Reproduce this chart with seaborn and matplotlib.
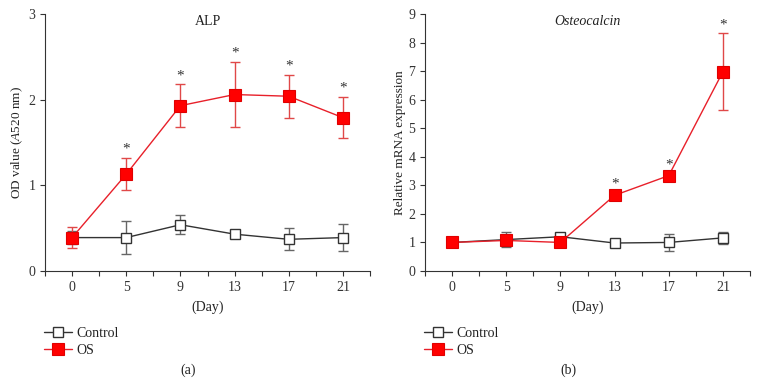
import numpy as np
import pandas as pd
import matplotlib
matplotlib.use('Agg')
import matplotlib.pyplot as plt
import seaborn as sns
from matplotlib.ticker import MultipleLocator

sns.set_style('ticks')
plt.rcParams['font.family'] = ['Liberation Serif', 'DejaVu Serif']
plt.rcParams['mathtext.fontset'] = 'custom'
plt.rcParams['mathtext.rm'] = 'Liberation Serif'
plt.rcParams['mathtext.it'] = 'Liberation Serif:italic'

days = ['0', '5', '9', '13', '17', '21']

# ALP (OD value)
alp_ctrl = [0.39, 0.39, 0.54, 0.43, 0.37, 0.39]
alp_ctrl_err = [0.08, 0.19, 0.11, 0.03, 0.13, 0.16]
alp_os = [0.39, 1.13, 1.93, 2.06, 2.04, 1.79]
alp_os_err = [0.12, 0.19, 0.25, 0.38, 0.25, 0.24]
alp_star = [False, True, True, True, True, True]

# Osteocalcin (relative mRNA)
ocn_ctrl = [1.00, 1.10, 1.20, 0.98, 1.00, 1.16]
ocn_ctrl_err = [0.05, 0.25, 0.08, 0.06, 0.30, 0.20]
ocn_os = [1.00, 1.07, 1.00, 2.65, 3.34, 6.98]
ocn_os_err = [0.05, 0.10, 0.05, 0.08, 0.08, 1.34]
ocn_star = [False, False, False, True, True, True]

RED = '#ff0000'
RED_ERR = '#e04848'
GRAY = '#333333'
GRAY_ERR = '#666666'

fig = plt.figure(figsize=(7.6, 3.85), dpi=100)
ax1 = fig.add_axes([45/760, 114/385, 325/760, 257/385])
ax2 = fig.add_axes([425/760, 114/385, 325/760, 257/385])


def panel(ax, ctrl, ctrl_err, os_, os_err, star, ymax, title, ylabel, italic, cap):
    x = np.arange(len(days))
    df = pd.DataFrame({
        'x': np.concatenate([x, x]),
        'y': ctrl + os_,
        'group': ['Control'] * len(days) + ['OS'] * len(days),
    })
    ax.errorbar(x, ctrl, yerr=ctrl_err, fmt='none', ecolor=GRAY_ERR,
                elinewidth=1, capsize=3.5, capthick=1, zorder=2)
    ax.errorbar(x, os_, yerr=os_err, fmt='none', ecolor=RED_ERR,
                elinewidth=1, capsize=3.5, capthick=1, zorder=2)
    sns.lineplot(data=df[df.group == 'Control'], x='x', y='y', ax=ax,
                 color=GRAY, lw=1, marker='s', markersize=7,
                 markerfacecolor='white', markeredgecolor=GRAY,
                 markeredgewidth=1, label='Control', zorder=3)
    sns.lineplot(data=df[df.group == 'OS'], x='x', y='y', ax=ax,
                 color='#e8202a', lw=1, marker='s', markersize=8,
                 markerfacecolor=RED, markeredgecolor='#e00000',
                 markeredgewidth=0.8, label='OS', zorder=4)
    for xi, yi, ei, s in zip(x, os_, os_err, star):
        if s:
            ax.text(xi, yi + ei + ymax * 0.008, '*', ha='center', va='bottom',
                    fontsize=11, color='#333333')
    ax.set_xlim(-0.5, 5.5)
    ax.set_ylim(0, ymax)
    ax.set_xticks(x)
    ax.set_xticklabels(days)
    ax.xaxis.set_minor_locator(MultipleLocator(0.5))
    ax.yaxis.set_major_locator(MultipleLocator(1))
    ax.tick_params(axis='both', which='both', direction='out', length=3.5,
                   width=0.8, labelsize=10, colors='#333333', pad=3.5)
    ax.tick_params(axis='y', which='minor', length=0)
    ax.set_xlabel('(Day)', fontsize=10, color='#222222', labelpad=5)
    ax.set_ylabel(ylabel, fontsize=9.5, color='#222222', labelpad=2)
    ax.text(0.5, 0.995, title, transform=ax.transAxes, ha='center', va='top',
            fontsize=10, style='italic' if italic else 'normal', color='#222222')
    sns.despine(ax=ax)
    for sp in ['left', 'bottom']:
        ax.spines[sp].set_linewidth(0.8)
        ax.spines[sp].set_color('#333333')
    leg = ax.legend(loc='upper left', bbox_to_anchor=(-0.02, -0.195), frameon=False,
                    fontsize=10, handlelength=2.0, handletextpad=0.3,
                    labelspacing=0.3, borderaxespad=0)
    for t in leg.get_texts():
        t.set_color('#222222')
    ax.text(0.44, -0.385, cap, transform=ax.transAxes, ha='center', va='center',
            fontsize=10, color='#222222')


panel(ax1, alp_ctrl, alp_ctrl_err, alp_os, alp_os_err, alp_star, 3, 'ALP',
      'OD value ($\\it{A}$520 nm)', False, '(a)')
panel(ax2, ocn_ctrl, ocn_ctrl_err, ocn_os, ocn_os_err, ocn_star, 9, 'Osteocalcin',
      'Relative mRNA expression', True, '(b)')

fig.savefig('out.png', dpi=100, facecolor='white')
